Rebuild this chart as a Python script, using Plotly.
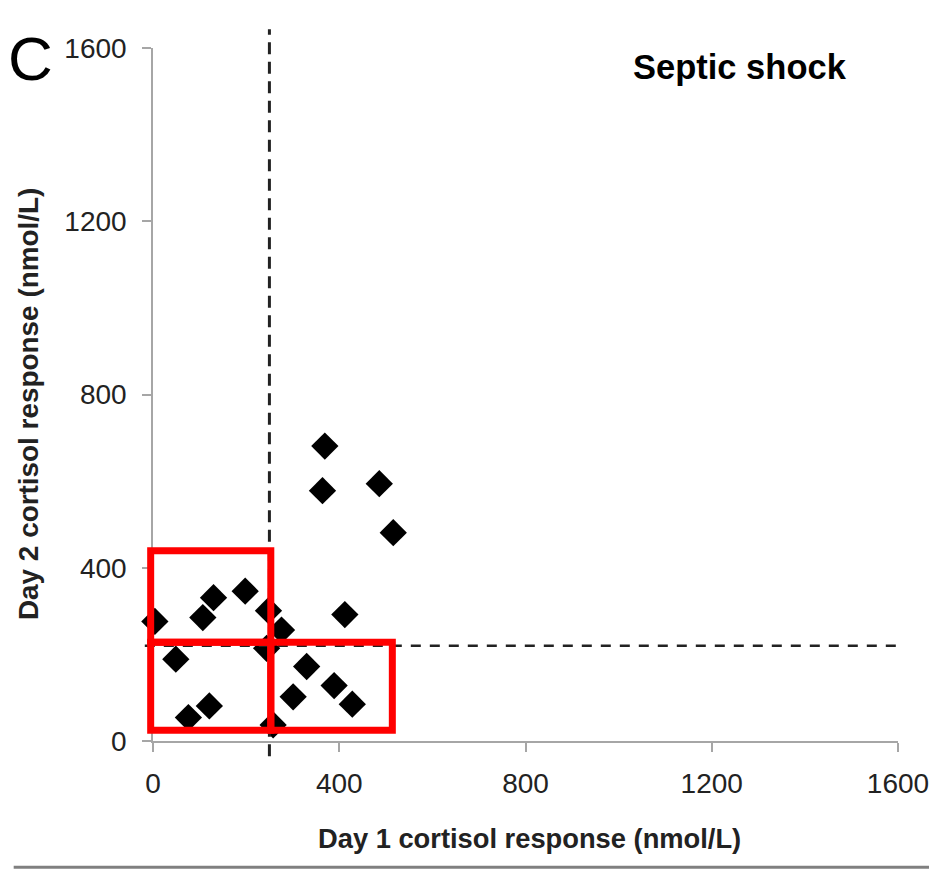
import plotly.graph_objects as go

# ---- data ----
day1_cortisol = [369, 364, 486, 516, 4, 130, 107, 198, 248, 276,
                 244, 412, 49, 330, 301, 389, 428, 121, 76, 258]
day2_cortisol = [681, 578, 594, 481, 276, 331, 285, 346, 301, 256,
                 214, 292, 189, 172, 102, 128, 85, 81, 54, 37]
tick_values = [0, 400, 800, 1200, 1600]
tick_labels = ["0", "400", "800", "1200", "1600"]
day1_threshold = 250
day2_threshold = 220

# highlight boxes (data units): [x0, x1, y0, y1]
highlight_boxes = [
    [-5, 253, 228, 439],
    [-5, 253, 25, 228],
    [253, 514, 25, 228],
]

AX_MIN, AX_MAX = 0, 1600
FONT = "Liberation Sans, Arial, sans-serif"
AXIS_GRAY = "#a6a6a6"


def to_paper(v):
    return (v - AX_MIN) / (AX_MAX - AX_MIN)


fig = go.Figure()
fig.add_trace(go.Scatter(
    x=day1_cortisol, y=day2_cortisol, mode="markers",
    marker=dict(symbol="diamond", size=21, color="black", line=dict(width=0)),
    cliponaxis=False, showlegend=False,
))

shapes = []
# threshold lines
shapes.append(dict(type="line", xref="x", yref="paper",
                   x0=day1_threshold, x1=day1_threshold, y0=-0.022, y1=1.027,
                   line=dict(color="#222222", width=3, dash="12px,7.5px")))
shapes.append(dict(type="line", xref="paper", yref="y",
                   x0=-0.011, x1=1.003, y0=day2_threshold, y1=day2_threshold,
                   line=dict(color="#222222", width=2.5, dash="10px,9px")))
# red highlight boxes
for x0, x1, y0, y1 in highlight_boxes:
    shapes.append(dict(type="rect", xref="paper", yref="paper",
                       x0=to_paper(x0), x1=to_paper(x1),
                       y0=to_paper(y0), y1=to_paper(y1),
                       line=dict(color="#ff0000", width=7), fillcolor="rgba(0,0,0,0)",
                       layer="above"))
# bottom border line of the figure
shapes.append(dict(type="line", xref="paper", yref="paper",
                   x0=-0.187, x1=1.07, y0=-0.182, y1=-0.182,
                   line=dict(color="#808080", width=3)))

axis_common = dict(
    range=[AX_MIN, AX_MAX], tickvals=tick_values, ticktext=tick_labels,
    showgrid=False, zeroline=False, showline=True, linecolor=AXIS_GRAY,
    linewidth=1.5, ticks="outside", ticklen=9, tickwidth=1.5, tickcolor=AXIS_GRAY,
    tickfont=dict(family=FONT, size=28, color="#222222"),
)

fig.update_layout(
    width=937, height=870,
    margin=dict(l=145, r=47, t=40, b=137),
    paper_bgcolor="white", plot_bgcolor="white",
    xaxis=dict(**axis_common, ticklabelstandoff=8),
    yaxis=dict(**axis_common, ticklabelstandoff=10),
    shapes=shapes,
    annotations=[
        dict(text="C", xref="paper", yref="paper", x=-0.165, y=0.985,
             showarrow=False, xanchor="center", yanchor="middle",
             font=dict(family=FONT, size=62, color="black")),
        dict(text="<b>Septic shock</b>", xref="paper", yref="paper",
             x=0.788, y=0.973, showarrow=False, xanchor="center", yanchor="middle",
             font=dict(family=FONT, size=34.5, color="black")),
        dict(text="<b>Day 1 cortisol response (nmol/L)</b>", xref="paper", yref="paper",
             x=0.506, y=-0.14, showarrow=False, xanchor="center", yanchor="middle",
             font=dict(family=FONT, size=27.3, color="#222222")),
        dict(text="<b>Day 2 cortisol response (nmol/L)</b>", xref="paper", yref="paper",
             x=-0.168, y=0.486, showarrow=False, xanchor="center", yanchor="middle",
             textangle=-90, font=dict(family=FONT, size=27.9, color="#222222")),
    ],
)

fig.write_html("out.html")
